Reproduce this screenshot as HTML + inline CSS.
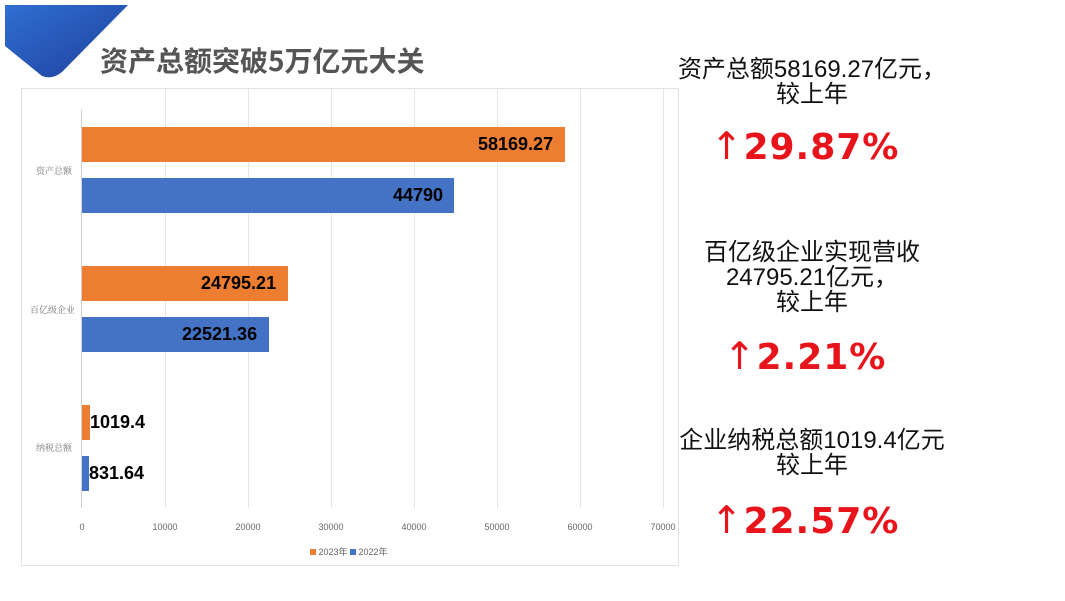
<!DOCTYPE html>
<html><head><meta charset="utf-8"><style>
body{margin:0;width:1065px;height:601px;background:#fff;position:relative;overflow:hidden;font-family:"Liberation Sans","Noto Sans CJK SC",sans-serif}
.a{position:absolute;white-space:nowrap}
.r{position:absolute;width:300px;left:662px;text-align:center;color:#111;font-size:24px;line-height:25px}
.p{position:absolute;width:300px;left:655px;text-align:center;color:#e8141b;font-weight:bold;font-size:36px;letter-spacing:1px;font-family:"DejaVu Sans",sans-serif}
.p span{font-weight:normal;font-size:38px;font-family:"DejaVu Sans",sans-serif}
.bar{position:absolute;height:35px}
.o{background:#ed7d31}.b{background:#4472c4}
.v{position:absolute;font-weight:bold;font-size:18px;color:#000;line-height:35px}
.g{position:absolute;top:88px;height:420px;width:1px;background:#e6e6e6}
.t{position:absolute;top:522px;font-size:9px;color:#666;width:60px;text-align:center}
.c{position:absolute;font-size:9px;color:#777;font-family:"Liberation Serif","Noto Serif CJK SC",serif}
</style></head><body>
<svg class="a" style="left:0;top:0" width="140" height="90"><defs><linearGradient id="gr" x1="0" y1="0" x2="1" y2="1"><stop offset="0" stop-color="#2f6fd0"/><stop offset="1" stop-color="#1f3f9e"/></linearGradient></defs>
<path d="M5 5 L128 5 L62 72 Q52 80 42 76 L5 46 Z" fill="url(#gr)"/></svg>
<div class="a" style="left:100px;top:40px;font-size:28px;font-weight:bold;color:#555;font-family:'Noto Sans CJK SC',sans-serif">资产总额突破5万亿元大关</div>
<div class="a" style="left:21px;top:88px;width:656px;height:476px;border:1px solid #e2e2e2"></div>
<div class="g" style="left:165px"></div><div class="g" style="left:248px"></div><div class="g" style="left:331px"></div><div class="g" style="left:414px"></div><div class="g" style="left:497px"></div><div class="g" style="left:580px"></div><div class="g" style="left:663px"></div>
<div class="a" style="left:81px;top:110px;width:1px;height:398px;background:#d0d0d0"></div>
<div class="bar o" style="left:82px;top:127px;width:483px"></div><div class="v" style="left:478px;top:127px">58169.27</div>
<div class="bar b" style="left:82px;top:178px;width:372px"></div><div class="v" style="left:393px;top:178px">44790</div>
<div class="bar o" style="left:82px;top:266px;width:206px"></div><div class="v" style="left:201px;top:266px">24795.21</div>
<div class="bar b" style="left:82px;top:317px;width:187px"></div><div class="v" style="left:182px;top:317px">22521.36</div>
<div class="bar o" style="left:82px;top:405px;width:8px"></div><div class="v" style="left:90px;top:405px">1019.4</div>
<div class="bar b" style="left:82px;top:456px;width:7px"></div><div class="v" style="left:89px;top:456px">831.64</div>
<div class="c" style="left:36px;top:164px">资产总额</div>
<div class="c" style="left:30px;top:303px">百亿级企业</div>
<div class="c" style="left:36px;top:441px">纳税总额</div>
<div class="t" style="left:52px">0</div><div class="t" style="left:135px">10000</div><div class="t" style="left:218px">20000</div><div class="t" style="left:301px">30000</div><div class="t" style="left:384px">40000</div><div class="t" style="left:467px">50000</div><div class="t" style="left:550px">60000</div><div class="t" style="left:633px">70000</div>
<div class="a" style="left:310px;top:545px;font-size:9px;color:#666"><span style="display:inline-block;width:6px;height:6px;background:#ed7d31"></span> 2023年 <span style="display:inline-block;width:6px;height:6px;background:#4472c4"></span> 2022年</div>
<div class="r" style="top:57px">资产总额58169.27亿元，<br>较上年</div>
<div class="p" style="top:124px"><span>↑</span>29.87%</div>
<div class="r" style="top:240px">百亿级企业实现营收<br>24795.21亿元，<br>较上年</div>
<div class="p" style="top:334px"><span>↑</span>2.21%</div>
<div class="r" style="top:428px">企业纳税总额1019.4亿元<br>较上年</div>
<div class="p" style="top:498px"><span>↑</span>22.57%</div>
</body></html>
